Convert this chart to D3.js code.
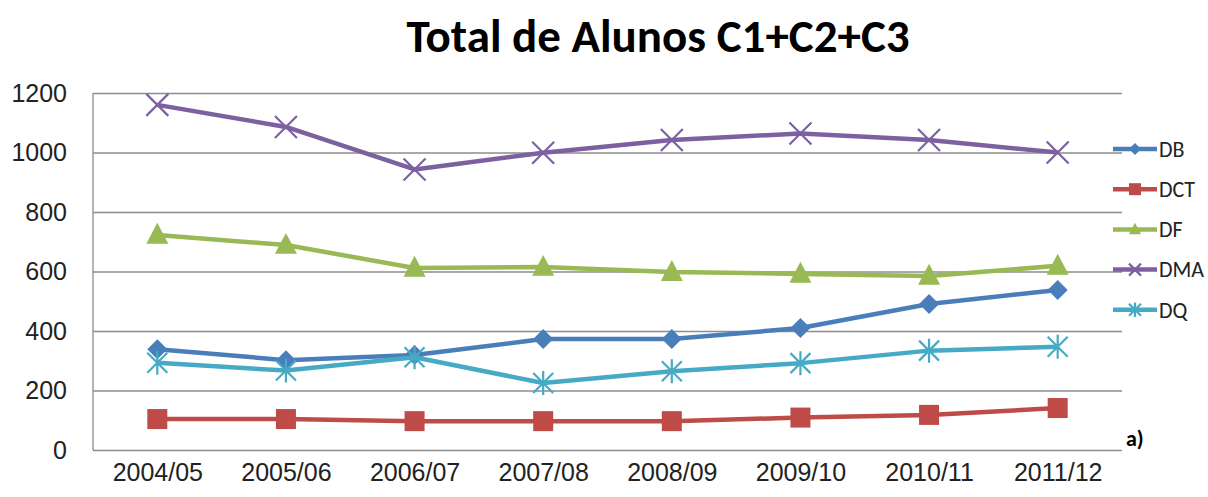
<!DOCTYPE html>
<html>
<head>
<meta charset="utf-8">
<script src="https://cdn.jsdelivr.net/npm/d3@7"></script>
<style>
  body { margin: 0; background: #fff; }
  svg { font-family: Carlito, Lato, "Open Sans", sans-serif; }
</style>
</head>
<body>
<svg id="chart" width="1208" height="497"></svg>
<script>
// years on the x axis
const years = ['2004/05', '2005/06', '2006/07', '2007/08', '2008/09', '2009/10', '2010/11', '2011/12'];
const yTicks = [0, 200, 400, 600, 800, 1000, 1200];

// series values
const dbValues = [339, 302, 319, 373, 373, 410, 491, 538];
const dctValues = [104, 104, 97, 97, 97, 109, 118, 141];
const dfValues = [723, 689, 612, 615, 598, 592, 585, 619];
const dmaValues = [1160, 1086, 943, 999, 1042, 1064, 1042, 1000];
const dqValues = [293, 267, 312, 225, 265, 292, 334, 347];

const seriesNames = ['DB', 'DCT', 'DF', 'DMA', 'DQ'];

const series = [
  {name: 'DB', values: dbValues, color: '#4a7ebb', marker: 'diamond'},
  {name: 'DCT', values: dctValues, color: '#be4b48', marker: 'square'},
  {name: 'DF', values: dfValues, color: '#98b954', marker: 'triangle'},
  {name: 'DMA', values: dmaValues, color: '#7d60a0', marker: 'x'},
  {name: 'DQ', values: dqValues, color: '#46aac5', marker: 'star'}
];

const margin = {left: 93, top: 93, right: 86, bottom: 47};
const width = 1208 - margin.left - margin.right;
const height = 497 - margin.top - margin.bottom;

const svg = d3.select('#chart');

svg.append('text')
  .attr('x', 658)
  .attr('y', 52)
  .attr('text-anchor', 'middle')
  .style('font-size', '47px')
  .style('font-weight', 'bold')
  .style('fill', '#000')
  .text('Total de Alunos C1+C2+C3');

const scaleX = d3.scalePoint()
  .domain(years)
  .range([0, width])
  .padding(0.5);

const scaleY = d3.scaleLinear()
  .domain([0, 1200])
  .range([height, 0]);

const g = svg.append('g')
  .attr('transform', `translate(${margin.left}, ${margin.top})`);

// grid lines
const yAxis = d3.axisLeft(scaleY)
  .tickValues(yTicks)
  .tickFormat(d3.format('d'))
  .tickSize(-width)
  .tickPadding(26);

g.append('g')
  .attr('class', 'y axis')
  .call(yAxis);

g.select('.y.axis .domain').remove();
g.selectAll('.y.axis g.tick line')
  .style('stroke', '#8c8c8c')
  .style('stroke-width', 1.3);
g.selectAll('.y.axis g.tick text')
  .style('font-size', '25px')
  .style('fill', '#222');

// left border of the plot
g.append('line')
  .attr('x1', 0).attr('x2', 0)
  .attr('y1', 0).attr('y2', height)
  .style('stroke', '#8c8c8c')
  .style('stroke-width', 1.3);

const xAxis = d3.axisBottom(scaleX)
  .tickSize(0)
  .tickPadding(13);

g.append('g')
  .attr('class', 'x axis')
  .attr('transform', `translate(0, ${height})`)
  .call(xAxis);

g.select('.x.axis .domain').remove();
g.selectAll('.x.axis g.tick text')
  .style('font-size', '25px')
  .style('fill', '#222')
  .attr('dy', '0.71em');

// marker shapes
function drawMarker(sel, type, color, s) {
  if (type === 'diamond') {
    sel.append('path')
      .attr('d', `M0,${-s}L${s},0L0,${s}L${-s},0Z`)
      .style('fill', color);
  } else if (type === 'square') {
    sel.append('rect')
      .attr('x', -s).attr('y', -s)
      .attr('width', 2 * s).attr('height', 2 * s)
      .style('fill', color);
  } else if (type === 'triangle') {
    sel.append('path')
      .attr('d', `M0,${-s * 1.1}L${s},${s * 0.8}L${-s},${s * 0.8}Z`)
      .style('fill', color);
  } else if (type === 'x') {
    sel.append('path')
      .attr('d', `M${-s},${-s}L${s},${s}M${-s},${s}L${s},${-s}`)
      .style('stroke', color)
      .style('stroke-width', 2.2);
  } else if (type === 'star') {
    sel.append('path')
      .attr('d', `M${-s},${-s}L${s},${s}M${-s},${s}L${s},${-s}M0,${-s * 1.2}L0,${s * 1.2}`)
      .style('stroke', color)
      .style('stroke-width', 2.2);
  }
}

const markerSize = {diamond: 10, square: 10, triangle: 11, x: 11, star: 10};

const line = d3.line()
  .x((d, i) => scaleX(years[i]))
  .y(d => scaleY(d));

series.forEach(s => {
  g.append('path')
    .datum(s.values)
    .attr('d', line)
    .style('fill', 'none')
    .style('stroke', s.color)
    .style('stroke-width', 4.5)
    .style('stroke-linejoin', 'round');

  s.values.forEach((v, i) => {
    const m = g.append('g')
      .attr('transform', `translate(${scaleX(years[i])}, ${scaleY(v)})`);
    drawMarker(m, s.marker, s.color, markerSize[s.marker]);
  });
});

// legend
const legend = svg.append('g')
  .attr('transform', 'translate(1113, 149)');

seriesNames.forEach((name, i) => {
  const s = series.find(d => d.name === name);
  const row = legend.append('g')
    .attr('transform', `translate(0, ${i * 40.2})`);
  row.append('line')
    .attr('x1', 0).attr('x2', 44)
    .style('stroke', s.color)
    .style('stroke-width', 4.5);
  const m = row.append('g').attr('transform', 'translate(22, 0)');
  drawMarker(m, s.marker, s.color, 6);
  row.append('text')
    .attr('x', 46)
    .attr('dy', '0.35em')
    .style('font-size', '22px')
    .style('fill', '#222')
    .text(name);
});

svg.append('text')
  .attr('x', 1126)
  .attr('y', 446)
  .style('font-size', '22px')
  .style('font-weight', 'bold')
  .style('fill', '#000')
  .text('a)');
</script>
</body>
</html>
